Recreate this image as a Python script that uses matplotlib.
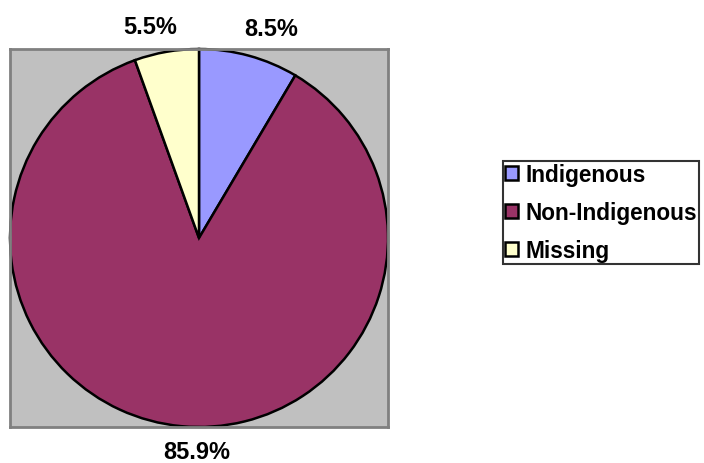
import matplotlib.pyplot as plt

labels = ['Indigenous', 'Non-Indigenous', 'Missing']
shares = [8.5, 85.9, 5.5]
colors = ['#9999FF', '#993366', '#FFFFCC']
pct_text = ['8.5%', '85.9%', '5.5%']
# label anchor positions (data units, pie radius = 1)
label_pos = [(0.38, 1.11), (-0.01, -1.13), (-0.26, 1.12)]

plt.rcParams['font.family'] = ['Liberation Sans', 'DejaVu Sans']

fig = plt.figure(figsize=(7.04, 4.64), dpi=100)
W, H = 704, 464
# square plot area in pixels: x 10..388, y 50..428 (top-down)
ax = fig.add_axes([10 / W, (H - 428) / H, 378 / W, 378 / H])

wedges, _ = ax.pie(shares, colors=colors, startangle=90, counterclock=False,
                   radius=1, wedgeprops=dict(edgecolor='black', linewidth=1.8))
ax.set_frame_on(True)
ax.set_facecolor('#C0C0C0')
for s in ax.spines.values():
    s.set_visible(True)
    s.set_color('#808080')
    s.set_linewidth(2)
ax.set_xlim(-1.0, 1.0)
ax.set_ylim(-1.0, 1.0)
ax.set_aspect('equal')
ax.set_xticks([])
ax.set_yticks([])

for t, (x, y) in zip(pct_text, label_pos):
    ax.text(x, y, t, ha='center', va='center', fontsize=17,
            fontweight='bold', clip_on=False)

leg = fig.legend(wedges, labels, loc='center left',
                 bbox_to_anchor=(503 / W, 1 - 213.5 / H),
                 prop=dict(size=16.3, weight='bold'),
                 frameon=True, fancybox=False, edgecolor='black',
                 handlelength=0.55, handleheight=0.55, handletextpad=0.35,
                 labelspacing=0.65, borderpad=0.1, borderaxespad=0)
leg.get_frame().set_linewidth(1.5)

fig.savefig('out.png', dpi=100)
